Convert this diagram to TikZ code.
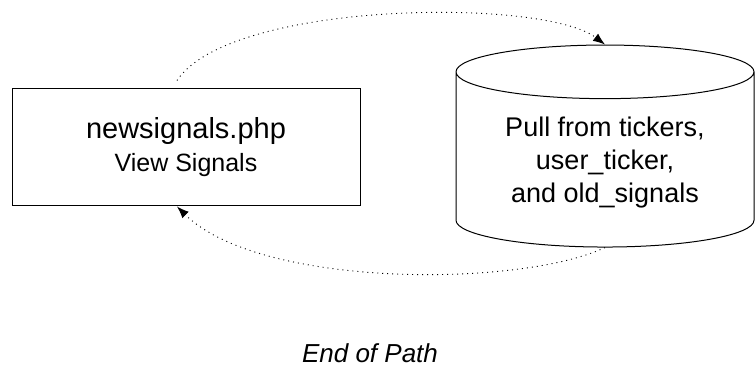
\documentclass[tikz,border=0pt]{standalone}
\usepackage{fontspec}
\setmainfont{Liberation Sans}
\usetikzlibrary{positioning,shapes.geometric,arrows.meta}

\begin{document}
\begin{tikzpicture}[x=1pt, y=-1pt, node distance=95pt,
		every node/.style={font=\fontsize{27}{33}\selectfont},
		flow/.style={-{Latex[length=12pt,width=9pt]}, line width=0.9pt, dash pattern=on 1pt off 4pt}]

	\useasboundingbox (0,0) rectangle (756,377);

	\node[draw, line width=1pt, minimum width=348pt, minimum height=117pt, align=center] (sig) at (186,147.5) {{\fontsize{29}{33}\selectfont newsignals.php}\\{\fontsize{25}{30}\selectfont View Signals}};
	\node[draw, line width=1pt, cylinder, shape border rotate=90, aspect=0.26, minimum width=298pt, minimum height=202pt, align=center, right=of sig, yshift=-15pt] (db) {Pull from tickers,\\user\_ticker,\\and old\_signals};

	\node[font=\fontsize{26}{30}\selectfont\itshape] (endpath) at (370,353) {End of Path};

	\draw[flow] ([xshift=-9pt, yshift=8pt]sig.north) .. controls +(53,-80) and +(-62,-47) .. (db.north);
	\draw[flow] (db.south) .. controls +(-85,40) and +(83,82) .. ([xshift=-9pt]sig.south);

\end{tikzpicture}
\end{document}
